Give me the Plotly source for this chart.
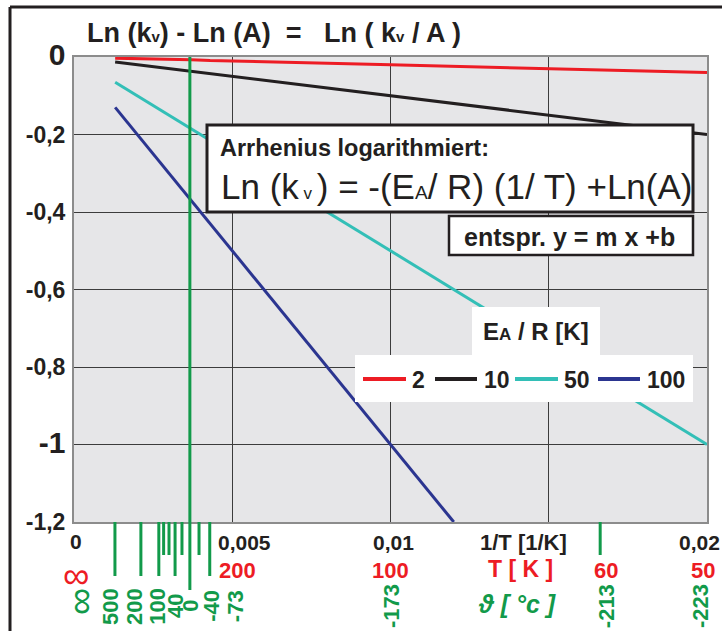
import plotly.graph_objects as go

# Arrhenius plot: Ln(k_v / A) over 1/T for several activation temperatures E_A/R
inv_T = [0.0013, 0.0021, 0.0027, 0.0032, 0.0037, 0.0043, 0.005, 0.01, 0.015, 0.02]
inv_T_100 = [0.0013, 0.0021, 0.0027, 0.0032, 0.0037, 0.0043, 0.005, 0.01, 0.012]

ln_ratio_2 = [-0.003, -0.004, -0.005, -0.006, -0.007, -0.009, -0.010, -0.020, -0.030, -0.040]
ln_ratio_10 = [-0.013, -0.021, -0.027, -0.031, -0.037, -0.043, -0.050, -0.100, -0.150, -0.200]
ln_ratio_50 = [-0.065, -0.105, -0.135, -0.160, -0.185, -0.215, -0.250, -0.500, -0.750, -1.000]
ln_ratio_100 = [-0.130, -0.210, -0.270, -0.320, -0.370, -0.430, -0.500, -1.000, -1.200]

series_names = ["2", "10", "50", "100"]
series_colors = ["#ed1c24", "#231f20", "#33bfb7", "#2b3590"]

y_ticks = [0, -0.2, -0.4, -0.6, -0.8, -1.0, -1.2]
y_tick_text = ['<span style="font-size:30px">0</span>', "-0,2", "-0,4", "-0,6", "-0,8",
               '<span style="font-size:30px">-1</span>', "-1,2"]
x_grid = [0.005, 0.01, 0.015]

# secondary scales under the axis
kelvin_x = [0.005, 0.01, 1 / 60, 0.02]
kelvin_text = ["200", "100", "60", "50"]
celsius_long = [500, 200, 100, 40, -40]
celsius_short = [80, 60, 20, -20, -213]
celsius_zero = 0
celsius_labels = [("500", 500), ("200", 200), ("100", 100), ("40", 40), ("0", 0),
                  ("-40", -40), ("-73", -73), ("-173", -173), ("-213", -213), ("-223", -223)]

RED = "#ed1c24"
GREEN = "#129a4a"
INK = "#231f20"
FONT = "Liberation Sans, Arial, sans-serif"

W, H = 722, 631
L, R, T, B = 74, 15, 57, 109
PW, PH = W - L - R, H - T - B


def px(x):
    return (x - L) / PW


def py(y):
    return (T + PH - y) / PH


def inv_k(c):
    return 1.0 / (c + 273.15)


fig = go.Figure()
for xs, ys, name, col in zip([inv_T, inv_T, inv_T, inv_T_100],
                             [ln_ratio_2, ln_ratio_10, ln_ratio_50, ln_ratio_100],
                             series_names, series_colors):
    fig.add_trace(go.Scatter(x=xs, y=ys, mode="lines", name=name,
                             line=dict(color=col, width=3), showlegend=False,
                             hoverinfo="skip"))

shapes = []
annotations = []


def text(x, y, s, size, color=INK, bold=True, xanchor="center", xref="paper",
         angle=0, italic=False, xshift=0, family=FONT):
    annotations.append(dict(
        x=x, y=y, xref=xref, yref="paper", text=s, showarrow=False,
        xanchor=xanchor, yanchor="middle", textangle=angle, xshift=xshift,
        font=dict(family=family, size=size, color=color,
                  weight="bold" if bold else "normal",
                  style="italic" if italic else "normal")))


# outer frame (top and left)
shapes.append(dict(type="line", xref="paper", yref="paper", x0=px(10), x1=px(722),
                   y0=py(7), y1=py(7), line=dict(color=INK, width=3)))
shapes.append(dict(type="line", xref="paper", yref="paper", x0=px(10), x1=px(10),
                   y0=py(7), y1=py(631), line=dict(color=INK, width=3)))

# 0 °C marker line through the plot
shapes.append(dict(type="line", xref="x", yref="paper", x0=inv_k(celsius_zero),
                   x1=inv_k(celsius_zero), y0=1, y1=py(590),
                   line=dict(color=GREEN, width=3), layer="above"))
for c in celsius_long:
    shapes.append(dict(type="line", xref="x", yref="paper", x0=inv_k(c), x1=inv_k(c),
                       y0=0, y1=py(576), line=dict(color=GREEN, width=3)))
for c in celsius_short:
    shapes.append(dict(type="line", xref="x", yref="paper", x0=inv_k(c), x1=inv_k(c),
                       y0=0, y1=py(555), line=dict(color=GREEN, width=3)))

# formula boxes
shapes.append(dict(type="rect", xref="paper", yref="paper", x0=px(207), x1=px(693),
                   y0=py(212), y1=py(125), fillcolor="white",
                   line=dict(color=INK, width=3), layer="above"))
shapes.append(dict(type="rect", xref="paper", yref="paper", x0=px(449), x1=px(693),
                   y0=py(255), y1=py(216), fillcolor="white",
                   line=dict(color=INK, width=2.5), layer="above"))

# legend panels
shapes.append(dict(type="rect", xref="paper", yref="paper", x0=px(472), x1=px(600),
                   y0=py(356), y1=py(307), fillcolor="white", line=dict(width=0),
                   layer="above"))
shapes.append(dict(type="rect", xref="paper", yref="paper", x0=px(355), x1=px(693),
                   y0=py(402), y1=py(355), fillcolor="white", line=dict(width=0),
                   layer="above"))
legend_x = [(363, 406, 410), (435, 477, 482), (515, 558, 562), (598, 640, 645)]
for (a, b, t), name, col in zip(legend_x, series_names, series_colors):
    shapes.append(dict(type="line", xref="paper", yref="paper", x0=px(a), x1=px(b),
                       y0=py(379), y1=py(379), line=dict(color=col, width=4),
                       layer="above"))
    text(px(t), py(380), name, 23, xanchor="left")
text(px(536), py(331), 'E<span style="font-size:17px">A</span> / R [K]', 24)

# title and formula text
sub_v = '<span style="font-size:15px">v</span>'
text(px(85), py(33),
     "Ln (k" + sub_v + ") - Ln (A) &nbsp;= &nbsp; Ln ( k" + sub_v + " / A )",
     27, xanchor="left")
text(px(218), py(148), "Arrhenius logarithmiert:", 23.5, xanchor="left")
text(px(219), py(186),
     'Ln (k<span style="font-size:17px"> v </span>) = -(E<span style="font-size:19px">A</span>/ R) (1/ T) +Ln(A)',
     35, bold=False, xanchor="left")
text(px(569), py(237), "entspr. y = m x +b", 25)

# 1/T axis labels
text(px(76), py(541), "0", 21)
text(px(244), py(542), "0,005", 21)
text(px(393), py(542), "0,01", 21)
text(px(523), py(542), "1/T [1/K]", 22)
text(px(699), py(542), "0,02", 21)

# Kelvin labels
text(px(76), py(575), "∞", 37, color=RED, bold=False)
for xv, s, sh in zip(kelvin_x, kelvin_text, [5, 0, 4, -4]):
    text(xv, py(570), s, 22, color=RED, xref="x", xshift=sh)
text(px(520), py(569), "T [ K ]", 23, color=RED)

# Celsius labels
text(px(80), py(602), "∞", 38, color=GREEN, bold=False, angle=-90)
shifts = {"500": -5, "200": -7, "100": -2, "40": 0, "0": 0, "-40": 1, "-73": 3,
          "-173": 1, "-213": 6, "-223": -5}
for s, c in celsius_labels:
    text(inv_k(c), py(606), s, 22, color=GREEN, xref="x", angle=-90, xshift=shifts[s])
text(px(517), py(604), "ϑ [ °c ]", 25, color=GREEN, italic=True)

fig.update_layout(
    width=W, height=H,
    margin=dict(l=L, r=R, t=T, b=B),
    paper_bgcolor="white",
    plot_bgcolor="#e6e6e8",
    shapes=shapes,
    annotations=annotations,
    xaxis=dict(range=[0, 0.02], tickvals=x_grid, showticklabels=False,
               showgrid=True, gridcolor="#3c3c3c", gridwidth=1, zeroline=False,
               showline=True, linecolor="#8c8c8c", linewidth=2, mirror=True,
               ticks=""),
    yaxis=dict(range=[-1.2, 0], tickvals=y_ticks, ticktext=y_tick_text,
               tickfont=dict(family=FONT, size=23, color=INK, weight="bold"),
               showgrid=True, gridcolor="#3c3c3c", gridwidth=1, zeroline=False,
               showline=True, linecolor="#8c8c8c", linewidth=2, mirror=True,
               ticks="", ticklabelstandoff=2),
)

fig.write_html("out.html")
